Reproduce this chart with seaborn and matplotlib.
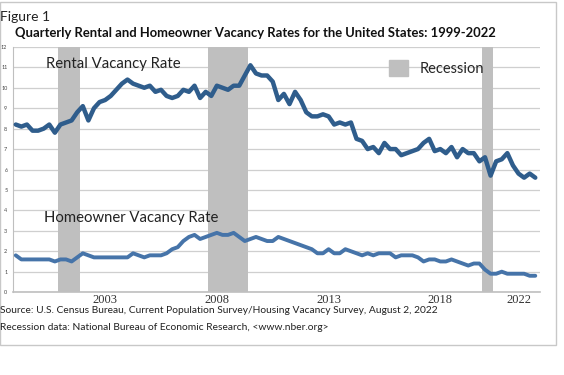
import numpy as np
import pandas as pd
import seaborn as sns
import matplotlib.pyplot as plt
from matplotlib.patches import Rectangle, Patch

# quarterly values, 1999 Q1 - 2022 Q2
rental = [8.2, 8.1, 8.2, 7.9, 7.9, 8.0, 8.2, 7.8,
          8.2, 8.3, 8.4, 8.8, 9.1, 8.4, 9.0, 9.3,
          9.4, 9.6, 9.9, 10.2, 10.4, 10.2, 10.1, 10.0,
          10.1, 9.8, 9.9, 9.6, 9.5, 9.6, 9.9, 9.8,
          10.1, 9.5, 9.8, 9.6, 10.1, 10.0, 9.9, 10.1,
          10.1, 10.6, 11.1, 10.7, 10.6, 10.6, 10.3, 9.4,
          9.7, 9.2, 9.8, 9.4, 8.8, 8.6, 8.6, 8.7,
          8.6, 8.2, 8.3, 8.2, 8.3, 7.5, 7.4, 7.0,
          7.1, 6.8, 7.3, 7.0, 7.0, 6.7, 6.8, 6.9,
          7.0, 7.3, 7.5, 6.9, 7.0, 6.8, 7.1, 6.6,
          7.0, 6.8, 6.8, 6.4, 6.6, 5.7, 6.4, 6.5,
          6.8, 6.2, 5.8, 5.6, 5.8, 5.6]
homeowner = [1.8, 1.6, 1.6, 1.6, 1.6, 1.6, 1.6, 1.5,
             1.6, 1.6, 1.5, 1.7, 1.9, 1.8, 1.7, 1.7,
             1.7, 1.7, 1.7, 1.7, 1.7, 1.9, 1.8, 1.7,
             1.8, 1.8, 1.8, 1.9, 2.1, 2.2, 2.5, 2.7,
             2.8, 2.6, 2.7, 2.8, 2.9, 2.8, 2.8, 2.9,
             2.7, 2.5, 2.6, 2.7, 2.6, 2.5, 2.5, 2.7,
             2.6, 2.5, 2.4, 2.3, 2.2, 2.1, 1.9, 1.9,
             2.1, 1.9, 1.9, 2.1, 2.0, 1.9, 1.8, 1.9,
             1.8, 1.9, 1.9, 1.9, 1.7, 1.8, 1.8, 1.8,
             1.7, 1.5, 1.6, 1.6, 1.5, 1.5, 1.6, 1.5,
             1.4, 1.3, 1.4, 1.4, 1.1, 0.9, 0.9, 1.0,
             0.9, 0.9, 0.9, 0.9, 0.8, 0.8]
# recession quarters (first, last) as quarter index from 1999 Q1
recessions = [(8, 11), (35, 41), (84, 85)]
tick_pos = [16, 36, 56, 76, 90]
tick_labels = ['2003', '2008', '2013', '2018', '2022']

df = pd.DataFrame({'q': np.arange(len(rental)), 'rental': rental, 'home': homeowner})

sns.set_style('white')
plt.rcParams['font.family'] = ['Lato', 'DejaVu Sans']

fig = plt.figure(figsize=(5.64, 3.75), dpi=100)
fig.patches.append(Rectangle((0.0, 0.08), 0.985, 0.915, transform=fig.transFigure,
                             fill=False, edgecolor='#c8c8c8', lw=1.0))
ax = fig.add_axes([0.023, 0.221, 0.934, 0.654])

for a, b in recessions:
    ax.axvspan(a - 0.5, b + 0.5, color='#bfbfbf', lw=0, zorder=1)

sns.lineplot(data=df, x='q', y='rental', color='#2f5d8c', lw=3.2, ax=ax, zorder=3)
sns.lineplot(data=df, x='q', y='home', color='#4674a9', lw=2.8, ax=ax, zorder=3)

ax.set_ylim(0, 12)
ax.set_xlim(-0.5, 93.8)
ax.set_yticks(range(0, 13))
ax.set_yticklabels([str(i) for i in range(13)], fontsize=4, color='#444444')
ax.yaxis.grid(True, color='#cfcfcf', lw=0.9)
ax.set_axisbelow(True)
ax.set_xticks(tick_pos)
ax.set_xticklabels(tick_labels, fontsize=9, color='#333333', family='Liberation Serif')
ax.tick_params(axis='x', length=0, pad=1)
ax.tick_params(axis='y', length=0, pad=4)
ax.set_xlabel('')
ax.set_ylabel('')
for s in ['top', 'right']:
    ax.spines[s].set_visible(False)
ax.spines['left'].set_color('#bfbfbf')
ax.spines['bottom'].set_color('#bfbfbf')
ax.spines['bottom'].set_linewidth(1.2)

ax.text(5.5, 10.95, 'Rental Vacancy Rate', fontsize=10.7, color='#222222')
ax.text(5.0, 3.45, 'Homeowner Vacancy Rate', fontsize=10.7, color='#222222')

ax.legend(handles=[Patch(color='#bfbfbf', label='Recession')], loc='upper right',
          bbox_to_anchor=(0.92, 1.0), frameon=False, fontsize=10.5,
          handlelength=1.3, handleheight=1.3)

fig.text(0.0, 0.955, 'Figure 1', fontsize=10, color='#222222', va='center')
fig.text(0.027, 0.912, 'Quarterly Rental and Homeowner Vacancy Rates for the United States: 1999-2022',
         fontsize=9.4, fontweight='bold', color='#111111', va='center')
fig.text(0.0, 0.172, 'Source: U.S. Census Bureau, Current Population Survey/Housing Vacancy Survey, August 2, 2022',
         fontsize=7.4, color='#222222', va='center')
fig.text(0.0, 0.128, 'Recession data: National Bureau of Economic Research, <www.nber.org>',
         fontsize=7.4, color='#222222', va='center')

fig.savefig('out.png', dpi=100)
